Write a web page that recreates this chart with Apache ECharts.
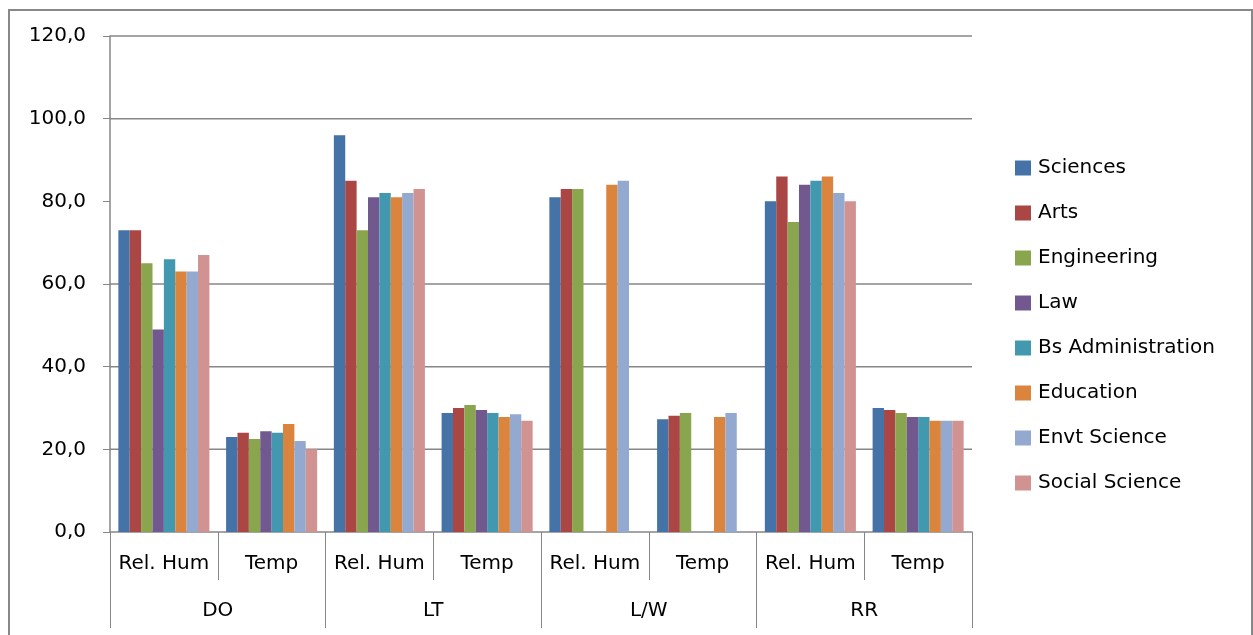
<!DOCTYPE html>
<html>
<head>
<meta charset="utf-8">
<script src="https://cdn.jsdelivr.net/npm/echarts@6/dist/echarts.min.js"></script>
<style>
html,body{margin:0;padding:0;background:#fff;}
#chart{width:1253px;height:635px;}
</style>
</head>
<body>
<div id="chart"></div>
<script>
var subCategories = ['Rel. Hum','Temp','Rel. Hum','Temp','Rel. Hum','Temp','Rel. Hum','Temp'];
var groupCategories = ['DO','LT','L/W','RR'];
var seriesNames = ['Sciences','Arts','Engineering','Law','Bs Administration','Education','Envt Science','Social Science'];
var seriesColors = ['#4572A7','#AA4643','#89A54E','#71588F','#4198AF','#DB843D','#93A9CF','#D19392'];
var sciences = [73, 23.0, 96, 28.8, 81, 27.3, 80, 30.0];
var arts = [73, 24.0, 85, 30.0, 83, 28.1, 86, 29.5];
var engineering = [65, 22.5, 73, 30.7, 83, 28.8, 75, 28.8];
var law = [49, 24.4, 81, 29.5, null, null, 84, 27.8];
var bsAdministration = [66, 24.0, 82, 28.8, null, null, 85, 27.8];
var education = [63, 26.1, 81, 27.8, 84, 27.8, 86, 26.9];
var envtScience = [63, 22.0, 82, 28.5, 85, 28.8, 82, 26.9];
var socialScience = [67, 20.0, 83, 26.9, null, null, 80, 26.9];
var yTicks = {min: 0, max: 120, interval: 20};
// horizontal gridlines visible in the reference (the 80 line is absent there)
var gridLineValues = [20, 40, 60, 100, 120];

var seriesData = [sciences, arts, engineering, law, bsAdministration, education, envtScience, socialScience];
var font = 'DejaVu Sans';
var gridColor = '#868686';

var chart = echarts.init(document.getElementById('chart'));
chart.setOption({
  animation: false,
  backgroundColor: '#fff',
  color: seriesColors,
  legend: {
    orient: 'vertical',
    left: 1010,
    top: 153,
    itemWidth: 16,
    itemHeight: 15,
    itemGap: 25,
    icon: 'rect',
    textStyle: {fontFamily: font, fontSize: 20, color: '#000', padding: [0,0,0,2]},
    data: seriesNames
  },
  grid: {left: 110, right: 281, top: 36, bottom: 103, containLabel: false},
  xAxis: [{
    type: 'category',
    data: subCategories,
    position: 'bottom',
    axisLine: {show: true, lineStyle: {color: gridColor, width: 1.5}},
    axisTick: {show: true, interval: 0, length: 48, lineStyle: {color: gridColor, width: 1}},
    axisLabel: {interval: 0, fontFamily: font, fontSize: 20, color: '#000', margin: 22},
    splitLine: {show: false}
  }, {
    type: 'category',
    data: groupCategories,
    position: 'bottom',
    offset: 48,
    axisLine: {show: false},
    axisTick: {show: true, interval: 0, length: 48, lineStyle: {color: gridColor, width: 1}},
    axisLabel: {interval: 0, fontFamily: font, fontSize: 20, color: '#000', margin: 21},
    splitLine: {show: false}
  }],
  yAxis: {
    type: 'value',
    min: yTicks.min,
    max: yTicks.max,
    interval: yTicks.interval,
    axisLine: {show: true, lineStyle: {color: gridColor, width: 1.5}},
    axisTick: {show: true, length: 7, lineStyle: {color: gridColor}},
    axisLabel: {
      fontFamily: font, fontSize: 20, color: '#000', margin: 24,
      formatter: function (v) { return v.toFixed(1).replace('.', ','); }
    },
    splitLine: {show: false}
  },
  series: seriesNames.map(function (name, i) {
    return {
      name: name,
      type: 'bar',
      xAxisIndex: 0,
      data: seriesData[i],
      barGap: '0%',
      barCategoryGap: '15.5%',
      itemStyle: {color: seriesColors[i]}
    };
  })
});

// gridlines positioned through the library's own y scale
var leftPx = 110, rightPx = 1253 - 281;
var lines = gridLineValues.map(function (v) {
  var y = chart.convertToPixel({yAxisIndex: 0}, v);
  return {
    type: 'line', silent: true, z: 0,
    shape: {x1: leftPx, y1: y, x2: rightPx, y2: y},
    style: {stroke: gridColor, lineWidth: 1.5}
  };
});
lines.push({
  type: 'rect', silent: true, z: 0,
  shape: {x: 9, y: 10, width: 1243, height: 640},
  style: {fill: 'none', stroke: '#888', lineWidth: 2}
});
chart.setOption({graphic: lines});
</script>
</body>
</html>
